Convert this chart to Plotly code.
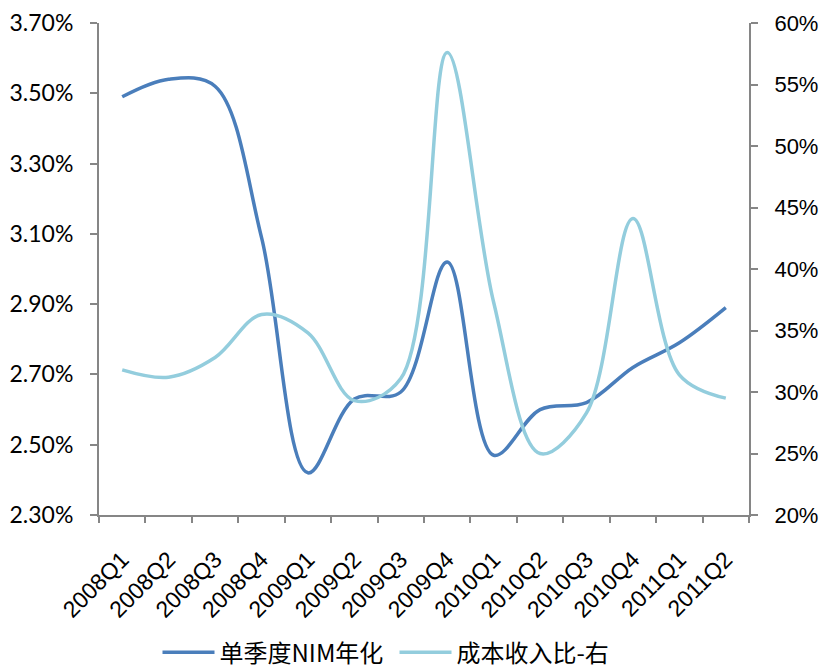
import plotly.graph_objects as go

quarters = ["2008Q1", "2008Q2", "2008Q3", "2008Q4", "2009Q1", "2009Q2", "2009Q3",
            "2009Q4", "2010Q1", "2010Q2", "2010Q3", "2010Q4", "2011Q1", "2011Q2"]
nim = [3.49, 3.54, 3.52, 3.09, 2.42, 2.63, 2.65, 3.02, 2.47, 2.60, 2.62, 2.72, 2.79, 2.89]
cost_income = [31.8, 31.2, 32.8, 36.3, 34.8, 29.3, 31.1, 57.6, 37.3, 25.0, 28.3, 44.1, 31.4, 29.5]

left_ticks = [2.30, 2.50, 2.70, 2.90, 3.10, 3.30, 3.50, 3.70]
right_ticks = [20, 25, 30, 35, 40, 45, 50, 55, 60]

fig = go.Figure()
fig.add_trace(go.Scatter(
    x=quarters, y=nim, name="单季度NIM年化", mode="lines",
    line=dict(color="#4A7EBB", width=3.5, shape="spline", smoothing=1.0),
    yaxis="y"))
fig.add_trace(go.Scatter(
    x=quarters, y=cost_income, name="成本收入比-右", mode="lines",
    line=dict(color="#93CDDD", width=3.5, shape="spline", smoothing=1.0),
    yaxis="y2"))

axis_col = "#868686"
fig.update_layout(
    width=822, height=668,
    margin=dict(l=99, r=73, t=23, b=153, autoexpand=False),
    paper_bgcolor="white", plot_bgcolor="white",
    showlegend=True,
    legend=dict(orientation="h", x=0.09, xanchor="left", y=-0.28, yanchor="middle",
                itemwidth=52, entrywidth=170, entrywidthmode="pixels",
                font=dict(family="Noto Sans CJK SC", size=24, color="#000000")),
    xaxis=dict(type="category", range=[-0.5, 13.5], automargin=False,
               showgrid=False, showline=True, linecolor=axis_col, linewidth=2,
               ticks="outside", tickson="boundaries", ticklen=6, tickwidth=2, tickcolor=axis_col,
               tickangle=-45, ticklabelstandoff=20,
               tickfont=dict(family="Liberation Sans", size=23, color="#000000")),
    yaxis=dict(range=[2.3, 3.7], tickvals=left_ticks, automargin=False,
               ticktext=[f"{v:.2f}%" for v in left_ticks],
               showgrid=False, zeroline=False, showline=True, linecolor=axis_col, linewidth=2,
               ticks="outside", ticklen=7, tickwidth=2, tickcolor=axis_col,
               ticklabelstandoff=12,
               tickfont=dict(family="Lato", size=23, color="#000000")),
    yaxis2=dict(range=[20, 60], tickvals=right_ticks, automargin=False,
                ticktext=[f"{v}%" for v in right_ticks],
                overlaying="y", side="right",
                showgrid=False, zeroline=False, showline=True, linecolor=axis_col, linewidth=2,
                ticks="outside", ticklen=7, tickwidth=2, tickcolor=axis_col,
                ticklabelstandoff=12,
                tickfont=dict(family="Liberation Sans", size=22, color="#000000")),
)

fig.write_html("out.html", config={"displayModeBar": False},
               post_script="document.body.style.margin='0';document.body.style.overflow='hidden';")
